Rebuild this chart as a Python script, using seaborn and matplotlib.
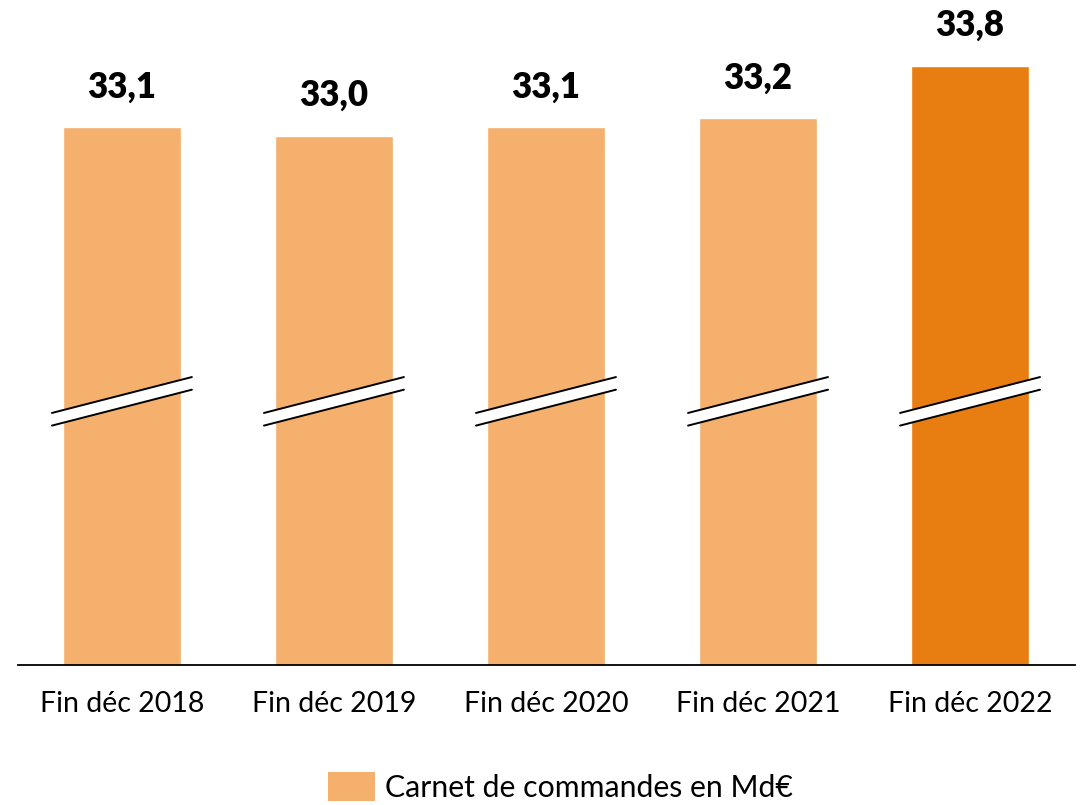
import matplotlib
matplotlib.use("Agg")
import matplotlib.pyplot as plt
from matplotlib.patches import Patch, Polygon
import seaborn as sns
import pandas as pd

# data
periods = ["Fin déc 2018", "Fin déc 2019", "Fin déc 2020", "Fin déc 2021", "Fin déc 2022"]
values = [33.1, 33.0, 33.1, 33.2, 33.8]
value_labels = ["33,1", "33,0", "33,1", "33,2", "33,8"]
legend_label = "Carnet de commandes en Md€"

light = "#F5B06E"
dark = "#E87E12"
colors = [light, light, light, light, dark]

sns.set_style("white")
plt.rcParams['font.family'] = ['Lato', 'DejaVu Sans']
plt.rcParams['text.color'] = 'black'
plt.rcParams['xtick.color'] = 'black'

df = pd.DataFrame({"period": periods, "value": values})

fig = plt.figure(figsize=(10.84, 8.05), dpi=100)
ax = fig.add_axes([18 / 1084, 140 / 805, 1057 / 1084, 665 / 805])

sns.barplot(data=df, x="period", y="value", hue="period", palette=colors,
            width=0.557, legend=False, ax=ax, saturation=1)

ax.set_ylim(26.95, 34.55)
ax.set_xlim(-0.49, 4.495)
for s in ["top", "left", "right"]:
    ax.spines[s].set_visible(False)
ax.spines["bottom"].set_color("black")
ax.spines["bottom"].set_linewidth(1.3)
ax.set_yticks([])
ax.set_xlabel("")
ax.set_ylabel("")
ax.tick_params(axis="x", length=0, pad=19, labelsize=20.5, labelcolor="black")

# value labels
for i, (v, lab) in enumerate(zip(values, value_labels)):
    ax.annotate(lab, (i, v), xytext=(0, 17), textcoords="offset points",
                ha="center", va="bottom", fontsize=25, fontweight="heavy", color="black")

# axis break marks
tr = ax.get_xaxis_transform()
half = 0.33
y_left, y_right, gap = 0.379, 0.433, 0.019
for i in range(len(values)):
    x0, x1 = i - half, i + half
    poly = Polygon([(x0, y_left), (x1, y_right), (x1, y_right - gap), (x0, y_left - gap)],
                   closed=True, facecolor="white", edgecolor="none", transform=tr, zorder=3)
    ax.add_patch(poly)
    ax.plot([x0, x1], [y_left, y_right], color="black", lw=1.4, transform=tr, zorder=4)
    ax.plot([x0, x1], [y_left - gap, y_right - gap], color="black", lw=1.4, transform=tr, zorder=4)

# legend
handle = Patch(facecolor=light, edgecolor="none")
fig.legend([handle], [legend_label], loc="center", bbox_to_anchor=(0.517, 0.022),
           frameon=False, fontsize=21.8, handlelength=1.55, handleheight=1.1,
           handletextpad=0.33, borderpad=0)

fig.savefig("out.png", dpi=100)
